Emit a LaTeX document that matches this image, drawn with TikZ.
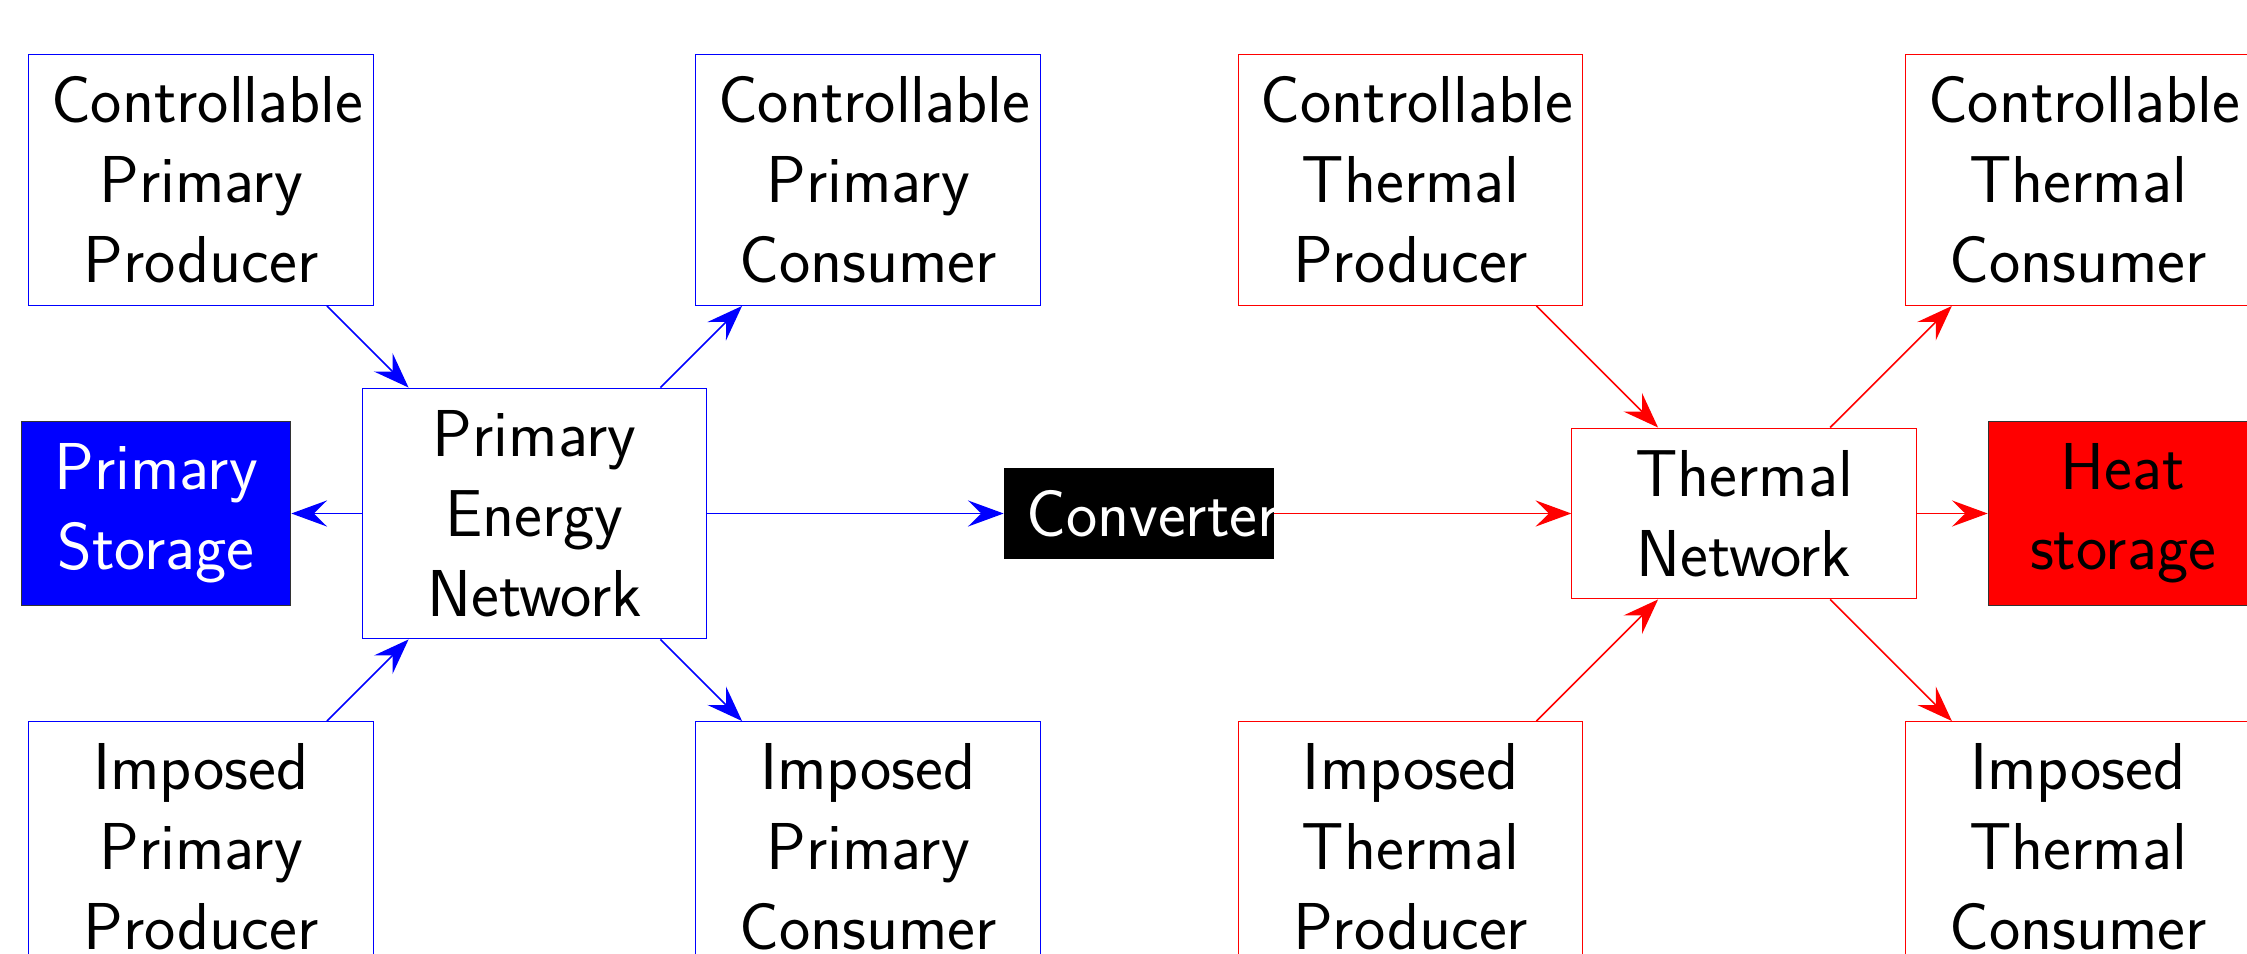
\documentclass[tikz,border=0pt]{standalone}
\usetikzlibrary{arrows.meta}
\begin{document}
\begin{tikzpicture}[x=0.375pt,y=-0.375pt,
  every node/.style={font=\sffamily\fontsize{24.88}{30}\selectfont, align=center, inner sep=8.3pt},
  bigbox/.style={draw, line width=0.4pt, text width=112.5pt},
  prim/.style={bigbox, draw=blue},
  therm/.style={bigbox, draw=red},
  store/.style={draw=black!80, line width=0.4pt, text width=84.5pt},
  conv/.style={fill=black, text=white, text width=84.5pt},
  arr/.style={line width=0.6pt, -{Stealth[length=13.4pt,width=9.8pt,inset=5pt]}},
  parr/.style={arr, blue},
  tarr/.style={arr, red}]
\useasboundingbox (0,0) rectangle (2247,954);
\clip (0,0) rectangle (2247,954);
% primary side
\node[prim] (cpp) at (201,180) {Controllable\\Primary\\Producer};
\node[prim] (pen) at (534.5,513.5) {Primary\\Energy\\Network};
\node[prim] (cpc) at (868,180) {Controllable\\Primary\\Consumer};
\node[prim] (ipp) at (201,847) {Imposed\\Primary\\Producer};
\node[prim] (ipc) at (868,847) {Imposed\\Primary\\Consumer};
\node[store, fill=blue, text=white] (ps) at (156,513.5) {Primary\\Storage};
% converter
\node[conv] (cv) at (1139,513.5) {Converter};
% thermal side
\node[therm] (ctp) at (1410.6,180) {Controllable\\Thermal\\Producer};
\node[therm] (tn) at (1744,513.5) {Thermal\\Network};
\node[therm] (ctc) at (2078,180) {Controllable\\Thermal\\Consumer};
\node[therm] (itp) at (1410.6,847) {Imposed\\Thermal\\Producer};
\node[therm] (itc) at (2078,847) {Imposed\\Thermal\\Consumer};
\node[store, fill=red] (hs) at (2123,513.5) {Heat\\storage};
% connectors
\draw[parr] (cpp) -- (pen);
\draw[parr] (ipp) -- (pen);
\draw[parr] (pen) -- (cpc);
\draw[parr] (pen) -- (ipc);
\draw[parr] (pen) -- (ps);
\draw[parr] (pen) -- (cv);
\draw[tarr] (cv) -- (tn);
\draw[tarr] (ctp) -- (tn);
\draw[tarr] (itp) -- (tn);
\draw[tarr] (tn) -- (ctc);
\draw[tarr] (tn) -- (itc);
\draw[tarr] (tn) -- (hs);
\end{tikzpicture}
\end{document}
